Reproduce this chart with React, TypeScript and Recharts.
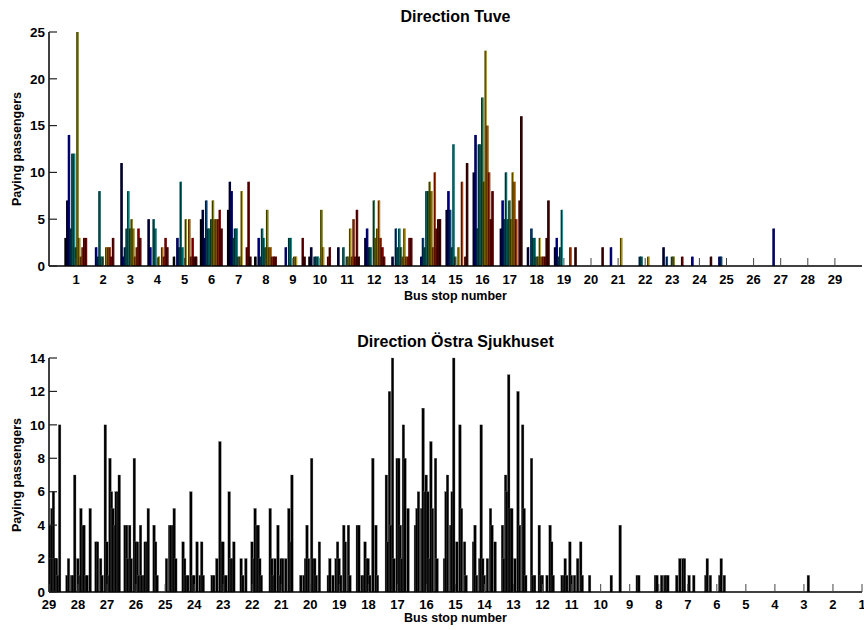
import React from 'react';
import { BarChart, Bar, XAxis, YAxis } from 'recharts';

const FONT = '"Liberation Sans", Arial, Helvetica, sans-serif';

// ---------- Direction Tuve: paying passengers per trip (14 trips) at each stop ----------
const tuveStops = [1, 2, 3, 4, 5, 6, 7, 8, 9, 10, 11, 12, 13, 14, 15, 16, 17, 18, 19, 20, 21, 22, 23, 24, 25, 26, 27, 28, 29];
const tuveS1 = [3, 7, 14, 4, 12, 12, 2, 25, 3, 1, 2, 3, 3, 0];
const tuveS2 = [0, 0, 2, 1, 8, 1, 1, 0, 2, 2, 2, 1, 3, 0];
const tuveS3 = [0, 11, 1, 2, 4, 8, 4, 5, 4, 1, 2, 4, 3, 0];
const tuveS4 = [0, 5, 2, 0, 5, 4, 0, 1, 0, 2, 1, 3, 2, 0];
const tuveS5 = [1, 0, 3, 2, 9, 2, 0, 5, 0, 5, 1, 3, 1, 1];
const tuveS6 = [5, 6, 3, 7, 4, 4, 5, 7, 5, 5, 5, 6, 4, 0];
const tuveS7 = [6, 9, 8, 3, 4, 4, 1, 1, 8, 0, 0, 2, 9, 1];
const tuveS8 = [1, 0, 3, 1, 4, 3, 2, 6, 2, 2, 1, 1, 1, 0];
const tuveS9 = [0, 0, 2, 0, 3, 3, 0, 1, 1, 0, 0, 0, 3, 1];
const tuveS10 = [1, 2, 0, 1, 1, 1, 0, 6, 2, 0, 0, 1, 2, 0];
const tuveS11 = [0, 2, 0, 0, 2, 0, 1, 1, 4, 1, 5, 1, 6, 1];
const tuveS12 = [0, 3, 4, 2, 2, 0, 7, 3, 4, 7, 3, 2, 1, 0];
const tuveS13 = [0, 1, 0, 4, 2, 4, 2, 1, 4, 1, 1, 3, 3, 0];
const tuveS14 = [0, 0, 1, 3, 2, 8, 8, 9, 8, 2, 10, 4, 5, 5];
const tuveS15 = [0, 6, 8, 6, 2, 13, 1, 0, 2, 0, 9, 0, 1, 11];
const tuveS16 = [0, 10, 14, 4, 13, 13, 18, 9, 23, 15, 10, 5, 8, 0];
const tuveS17 = [0, 4, 7, 5, 10, 5, 7, 5, 10, 9, 5, 0, 7, 16];
const tuveS18 = [0, 2, 0, 4, 3, 3, 1, 1, 3, 1, 1, 1, 3, 7];
const tuveS19 = [0, 2, 3, 1, 2, 6, 0, 0, 0, 0, 2, 0, 0, 2];
const tuveS20 = [0, 0, 0, 0, 0, 0, 0, 0, 0, 0, 0, 0, 0, 2];
const tuveS21 = [0, 0, 2, 0, 0, 0, 0, 0, 3, 0, 0, 0, 0, 0];
const tuveS22 = [0, 0, 0, 1, 1, 0, 0, 0, 1, 0, 0, 0, 0, 0];
const tuveS23 = [0, 2, 0, 1, 0, 0, 1, 1, 0, 0, 0, 0, 1, 0];
const tuveS24 = [0, 0, 1, 0, 0, 0, 0, 0, 0, 0, 0, 0, 0, 1];
const tuveS25 = [0, 0, 1, 1, 0, 0, 0, 0, 0, 0, 0, 0, 0, 0];
const tuveS26 = [0, 0, 0, 0, 0, 0, 0, 0, 0, 0, 0, 0, 0, 0];
const tuveS27 = [0, 0, 4, 0, 0, 0, 0, 0, 0, 0, 0, 0, 0, 0];
const tuveS28 = [0, 0, 0, 0, 0, 0, 0, 0, 0, 0, 0, 0, 0, 0];
const tuveS29 = [0, 0, 0, 0, 0, 0, 0, 0, 0, 0, 0, 0, 0, 0];
const tuveByStop = [tuveS1, tuveS2, tuveS3, tuveS4, tuveS5, tuveS6, tuveS7, tuveS8, tuveS9, tuveS10,
  tuveS11, tuveS12, tuveS13, tuveS14, tuveS15, tuveS16, tuveS17, tuveS18, tuveS19, tuveS20,
  tuveS21, tuveS22, tuveS23, tuveS24, tuveS25, tuveS26, tuveS27, tuveS28, tuveS29];
const tuveYTicks = [0, 5, 10, 15, 20, 25];

// ---------- Direction Östra Sjukhuset: paying passengers per trip (16 trips) at each stop ----------
const ostraStops = [1, 2, 3, 4, 5, 6, 7, 8, 9, 10, 11, 12, 13, 14, 15, 16, 17, 18, 19, 20, 21, 22, 23, 24, 25, 26, 27, 28, 29];
const ostraS1 = [0, 0, 0, 0, 0, 0, 0, 0, 0, 0, 0, 0, 0, 0, 0, 0];
const ostraS2 = [0, 0, 0, 0, 0, 0, 0, 0, 0, 0, 0, 0, 0, 0, 0, 0];
const ostraS3 = [0, 0, 0, 0, 0, 0, 0, 0, 0, 0, 1, 0, 0, 0, 0, 0];
const ostraS4 = [0, 0, 0, 0, 0, 0, 0, 0, 0, 0, 0, 0, 0, 0, 0, 0];
const ostraS5 = [0, 0, 0, 0, 0, 0, 0, 0, 0, 0, 0, 0, 0, 0, 0, 0];
const ostraS6 = [1, 2, 0, 1, 0, 0, 0, 0, 0, 1, 2, 0, 1, 0, 0, 0];
const ostraS7 = [1, 0, 2, 0, 2, 2, 0, 0, 1, 0, 0, 1, 0, 0, 0, 0];
const ostraS8 = [0, 0, 0, 0, 0, 1, 1, 0, 0, 1, 0, 1, 1, 1, 0, 0];
const ostraS9 = [0, 4, 0, 0, 0, 0, 0, 0, 0, 0, 0, 0, 1, 1, 0, 0];
const ostraS10 = [1, 0, 0, 0, 0, 0, 0, 0, 0, 0, 0, 0, 0, 0, 1, 0];
const ostraS11 = [0, 1, 1, 2, 1, 0, 3, 1, 0, 1, 0, 2, 0, 3, 1, 0];
const ostraS12 = [8, 1, 1, 0, 0, 4, 1, 1, 0, 0, 1, 0, 4, 3, 1, 0];
const ostraS13 = [4, 2, 7, 6, 13, 5, 5, 0, 2, 0, 12, 4, 0, 10, 5, 1];
const ostraS14 = [3, 4, 1, 0, 2, 10, 2, 1, 0, 2, 0, 5, 4, 0, 3, 0];
const ostraS15 = [2, 6, 7, 0, 4, 6, 14, 0, 3, 0, 10, 5, 0, 3, 1, 0];
const ostraS16 = [4, 5, 6, 0, 5, 11, 6, 7, 6, 2, 9, 5, 0, 8, 2, 0];
const ostraS17 = [7, 3, 12, 4, 14, 2, 0, 8, 8, 4, 2, 10, 8, 0, 5, 0];
const ostraS18 = [4, 4, 0, 1, 1, 3, 2, 2, 1, 0, 8, 0, 4, 1, 0, 0];
const ostraS19 = [1, 2, 0, 1, 0, 2, 3, 2, 1, 0, 4, 3, 0, 4, 1, 0];
const ostraS20 = [0, 1, 0, 1, 2, 4, 2, 0, 8, 2, 2, 1, 0, 3, 0, 0];
const ostraS21 = [5, 2, 1, 2, 0, 4, 1, 2, 2, 0, 2, 0, 5, 3, 7, 0];
const ostraS22 = [2, 1, 0, 2, 0, 0, 0, 3, 2, 5, 4, 4, 2, 1, 0, 0];
const ostraS23 = [1, 1, 0, 2, 0, 9, 3, 3, 1, 1, 0, 6, 2, 2, 3, 0];
const ostraS24 = [3, 2, 1, 1, 0, 6, 1, 1, 0, 3, 0, 1, 3, 1, 0, 0];
const ostraS25 = [4, 3, 1, 0, 0, 0, 0, 0, 2, 0, 4, 4, 4, 5, 2, 0];
const ostraS26 = [4, 4, 2, 4, 2, 0, 8, 3, 3, 1, 4, 1, 1, 3, 3, 5];
const ostraS27 = [3, 3, 0, 2, 1, 0, 10, 3, 1, 8, 6, 5, 4, 6, 6, 7];
const ostraS28 = [1, 2, 0, 1, 1, 7, 0, 2, 1, 5, 4, 4, 1, 1, 0, 5];
const ostraS29 = [0, 0, 0, 0, 0, 0, 0, 0, 4, 5, 6, 2, 2, 1, 10, 0];
const ostraByStop = [ostraS1, ostraS2, ostraS3, ostraS4, ostraS5, ostraS6, ostraS7, ostraS8, ostraS9, ostraS10,
  ostraS11, ostraS12, ostraS13, ostraS14, ostraS15, ostraS16, ostraS17, ostraS18, ostraS19, ostraS20,
  ostraS21, ostraS22, ostraS23, ostraS24, ostraS25, ostraS26, ostraS27, ostraS28, ostraS29];
const ostraYTicks = [0, 2, 4, 6, 8, 10, 12, 14];

// ---------- styling ----------
const TRIP_COLORS = ['#000000', '#00004d', '#0000b3', '#00509a', '#008080', '#00a6a6', '#2e8b57',
  '#a0a000', '#d4b000', '#e08000', '#d04000', '#c00000', '#800000', '#500000'];
const TOP_OFF0 = -0.387;
const TOP_STEP = 0.0627;
const BOT_OFF0 = -0.379;
const BOT_STEP = 0.0534;

const tuveTable = tuveStops
  .flatMap((s, i) => tuveByStop[i].map((v, k) => ({ x: s + TOP_OFF0 + k * TOP_STEP, v, k })))
  .filter((d) => d.v > 0);
const ostraTable = ostraStops
  .flatMap((s, i) => ostraByStop[i].map((v, k) => ({ x: s - (BOT_OFF0 + k * BOT_STEP), v, k })))
  .filter((d) => d.v > 0);

function shade(hex: string, f: number) {
  const n = parseInt(hex.slice(1), 16);
  const r = Math.round(((n >> 16) & 255) * f);
  const g = Math.round(((n >> 8) & 255) * f);
  const b = Math.round((n & 255) * f);
  return `rgb(${r},${g},${b})`;
}

const TOP_BAR_W = 2.4;
const BOT_BAR_W = 2.6;
const TuveBar = (props: any) => {
  const { x, y, width, height } = props;
  if (!height || height <= 0) return null;
  const k = props.payload ? props.payload.k : props.k;
  const color = TRIP_COLORS[k] || '#000';
  const cx = x + width / 2;
  return (
    <g>
      <rect x={cx - TOP_BAR_W / 2} y={y} width={TOP_BAR_W} height={height} fill={shade(color, 0.35)} />
      <rect x={cx + TOP_BAR_W / 2 - 1} y={y} width={1} height={height} fill={color} />
    </g>
  );
};
const OstraBar = (props: any) => {
  const { x, y, width, height } = props;
  if (!height || height <= 0) return null;
  const cx = x + width / 2;
  return <rect x={cx - BOT_BAR_W / 2} y={y} width={BOT_BAR_W} height={height} fill="#000" stroke="#666" strokeWidth={0.3} />;
};

const TICK_LEN = 8;
const makeXTick = (dy: number) => (props: any) => {
  const { x, y, payload } = props;
  return (
    <g>
      <line x1={x} x2={x} y1={y} y2={y - TICK_LEN} stroke="#444" strokeWidth={1} />
      <text x={x} y={y + dy} textAnchor="middle" fontFamily={FONT} fontWeight="bold" fontSize={13} fill="#000">
        {payload.value}
      </text>
    </g>
  );
};
const YTick = (props: any) => {
  const { x, y, payload } = props;
  return (
    <g>
      <line x1={x} x2={x + TICK_LEN} y1={y} y2={y} stroke="#222" strokeWidth={1.2} />
      <text x={x - 4} y={y + 4.7} textAnchor="end" fontFamily={FONT} fontWeight="bold" fontSize={13.5} fill="#000">
        {payload.value}
      </text>
    </g>
  );
};

const axisLineStyle = { stroke: '#000', strokeWidth: 1.5 };

export default function App() {
  return (
    <div style={{ position: 'fixed', left: 0, top: 0, width: 864, height: 630, background: '#fff', overflow: 'hidden' }}>
      <div style={{ position: 'absolute', left: 0, top: 0 }}>
        <BarChart width={864} height={310} data={tuveTable} margin={{ top: 32, right: 2, bottom: 0, left: 0 }}>
          <XAxis
            type="number"
            dataKey="x"
            domain={[0, 30]}
            ticks={tuveStops}
            allowDataOverflow
            interval={0}
            height={44}
            tickSize={0}
            tickMargin={0}
            tickLine={false}
            axisLine={axisLineStyle}
            tick={makeXTick(18)}
          />
          <YAxis
            type="number"
            domain={[0, 25]}
            ticks={tuveYTicks}
            interval={0}
            width={49}
            tickSize={0}
            tickMargin={0}
            tickLine={false}
            axisLine={axisLineStyle}
            tick={<YTick />}
          />
          <Bar dataKey="v" barSize={2} isAnimationActive={false} shape={<TuveBar />} />
        </BarChart>
      </div>
      <div style={{ position: 'absolute', left: 0, top: 310 }}>
        <BarChart width={864} height={320} data={ostraTable} margin={{ top: 48, right: 2, bottom: 0, left: 0 }}>
          <XAxis
            type="number"
            dataKey="x"
            domain={[1, 29]}
            reversed
            ticks={ostraStops}
            allowDataOverflow
            interval={0}
            height={38}
            tickSize={0}
            tickMargin={0}
            tickLine={false}
            axisLine={axisLineStyle}
            tick={makeXTick(16.8)}
          />
          <YAxis
            type="number"
            domain={[0, 14]}
            ticks={ostraYTicks}
            interval={0}
            width={49}
            tickSize={0}
            tickMargin={0}
            tickLine={false}
            axisLine={axisLineStyle}
            tick={<YTick />}
          />
          <Bar dataKey="v" barSize={2} isAnimationActive={false} shape={<OstraBar />} />
        </BarChart>
      </div>
      <svg width={864} height={630} style={{ position: 'absolute', left: 0, top: 0, pointerEvents: 'none' }}>
        <g fontFamily={FONT} fontWeight="bold" fill="#000">
          <text x={455.5} y={21.5} textAnchor="middle" fontSize={16}>Direction Tuve</text>
          <text x={455.5} y={300} textAnchor="middle" fontSize={12.5}>Bus stop number</text>
          <text transform="translate(20.5,149) rotate(-90)" textAnchor="middle" fontSize={12.5}>Paying passengers</text>
          <text x={455.5} y={347} textAnchor="middle" fontSize={16}>Direction Östra Sjukhuset</text>
          <text x={455.5} y={621.5} textAnchor="middle" fontSize={12.5}>Bus stop number</text>
          <text transform="translate(20.5,475) rotate(-90)" textAnchor="middle" fontSize={12.5}>Paying passengers</text>
        </g>
      </svg>
    </div>
  );
}
